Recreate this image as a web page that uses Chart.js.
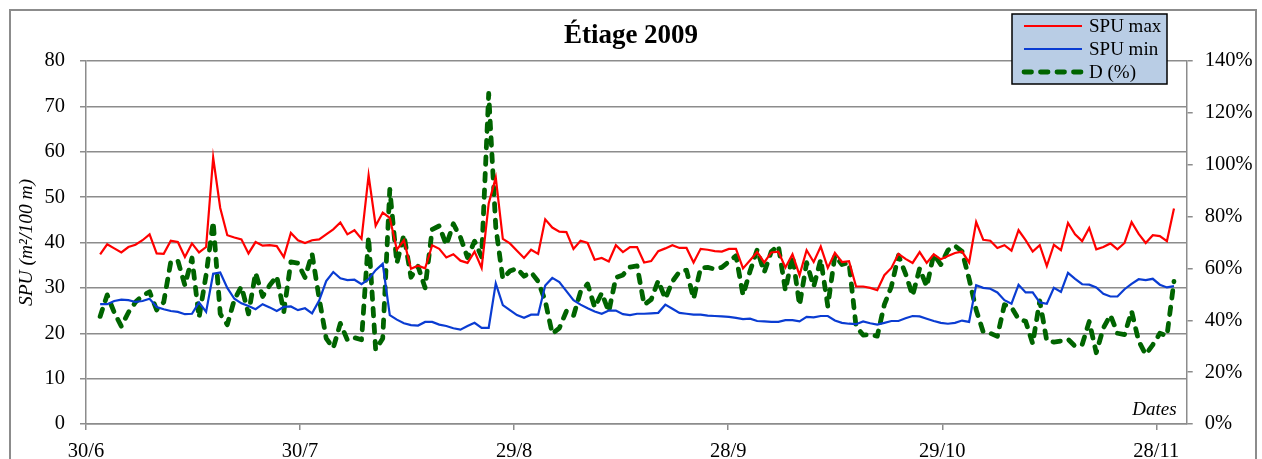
<!DOCTYPE html>
<html>
<head>
<meta charset="utf-8">
<script src="https://cdn.jsdelivr.net/npm/chart.js@4.4.1/dist/chart.umd.min.js"></script>
<style>
  html, body { margin: 0; padding: 0; background: #ffffff; }
  #c { display: block; }
</style>
</head>
<body>
<canvas id="c" width="1262" height="459"></canvas>
<script>
// Daily readings, 2/7/2009 to 1/12/2009 (day 0 = 30/6)
const firstDay = 2;

// SPU max (m²/100 m)
const spuMax = [
  37.4, 39.6, 38.7, 37.8, 39.0, 39.5, 40.5, 41.8, 37.6, 37.5,
  40.4, 40.1, 36.8, 39.8, 37.8, 39.0, 58.7, 47.6, 41.6, 41.1,
  40.7, 37.6, 40.1, 39.3, 39.4, 39.2, 36.8, 42.1, 40.5, 39.9,
  40.5, 40.7, 41.8, 42.9, 44.4, 41.8, 42.7, 40.8, 54.8, 43.7,
  46.6, 45.4, 38.4, 40.5, 34.2, 34.9, 34.3, 39.4, 38.6, 36.7,
  37.4, 36.0, 35.5, 38.0, 34.4, 48.6, 54.3, 40.8, 39.8, 38.2,
  36.6, 38.4, 37.5, 45.1, 43.3, 42.4, 42.3, 38.6, 40.4, 39.9,
  36.2, 36.6, 35.8, 39.4, 37.9, 39.0, 39.0, 35.6, 35.9, 38.1,
  38.7, 39.4, 38.8, 38.8, 35.6, 38.6, 38.4, 38.1, 38.0, 38.6,
  38.6, 34.3, 36.1, 37.9, 35.6, 37.8, 38.0, 34.5, 37.4, 32.8,
  38.3, 35.7, 39.1, 34.4, 37.7, 35.7, 35.9, 30.3, 30.3, 30.0,
  29.5, 32.8, 34.4, 37.5, 36.4, 35.5, 37.9, 35.5, 37.4, 36.3,
  37.0, 37.7, 38.0, 35.6, 44.5, 40.6, 40.4, 38.8, 39.4, 38.2,
  42.7, 40.5, 38.0, 39.4, 34.8, 39.5, 38.3, 44.3, 41.8, 40.3,
  43.2, 38.5, 39.0, 39.8, 38.5, 39.9, 44.5, 41.9, 39.9, 41.6,
  41.4, 40.3, 47.5
];

// SPU min (m²/100 m)
const spuMin = [
  26.4, 26.4, 27.1, 27.4, 27.3, 26.9, 27.1, 27.6, 25.8, 25.3,
  24.9, 24.7, 24.2, 24.3, 26.8, 24.7, 33.1, 33.4, 30.0, 27.6,
  26.6, 26.0, 25.3, 26.4, 25.7, 24.9, 25.8, 25.9, 25.1, 25.5,
  24.4, 27.2, 31.5, 33.5, 32.1, 31.7, 31.8, 30.8, 31.9, 33.9,
  35.3, 24.0, 23.0, 22.2, 21.8, 21.7, 22.5, 22.5, 21.9, 21.6,
  21.1, 20.8, 21.6, 22.3, 21.2, 21.2, 31.0, 26.2, 25.1, 24.0,
  23.4, 24.1, 24.1, 30.5, 32.2, 31.3, 29.3, 27.3, 26.3, 25.5,
  24.8, 24.3, 25.0, 25.0, 24.2, 24.0, 24.3, 24.3, 24.4, 24.5,
  26.3, 25.4, 24.5, 24.3, 24.1, 24.1, 23.9, 23.8, 23.7, 23.6,
  23.4, 23.1, 23.2, 22.7, 22.6, 22.5, 22.5, 22.9, 22.9, 22.6,
  23.6, 23.5, 23.8, 23.8, 22.8, 22.3, 22.1, 22.0, 22.6, 22.2,
  21.9, 22.3, 22.7, 22.7, 23.3, 23.8, 23.7, 23.2, 22.7, 22.3,
  22.1, 22.3, 22.8, 22.5, 30.6, 30.0, 29.8, 29.0, 27.3, 26.5,
  30.7, 29.0, 29.0, 26.8, 26.5, 30.0, 29.1, 33.3, 32.0, 30.8,
  30.7, 30.1, 28.7, 28.1, 28.1, 29.7, 30.9, 31.9, 31.7, 32.0,
  30.7, 30.1, 30.4
];

// D (%)
const dPct = [
  41.5, 49.8, 43.0, 37.7, 43.0, 47.0, 49.5, 51.0, 44.0, 47.0,
  62.5, 63.0, 53.5, 64.0, 41.0, 57.5, 78.0, 42.5, 38.3, 48.0,
  53.0, 42.5, 58.3, 49.2, 53.5, 57.0, 43.3, 62.5, 62.0, 56.5,
  65.6, 48.5, 33.0, 29.3, 38.8, 32.4, 33.3, 32.5, 72.2, 28.6,
  33.0, 90.5, 62.0, 73.0, 56.6, 60.8, 52.5, 75.0, 76.4, 69.0,
  77.2, 72.0, 64.2, 70.5, 64.5, 127.5, 76.0, 56.0, 59.0, 60.0,
  57.0, 58.5, 55.0, 47.5, 34.8, 37.0, 43.5, 41.7, 51.0, 54.0,
  45.0, 50.5, 43.3, 56.5, 57.5, 60.5, 61.0, 46.0, 48.0, 55.3,
  48.3, 55.0, 58.7, 59.3, 48.3, 60.2, 60.4, 59.7, 60.4, 62.6,
  64.9, 49.7, 59.0, 67.2, 58.5, 66.5, 68.8, 51.5, 65.0, 45.8,
  62.2, 53.0, 63.5, 45.5, 65.0, 61.5, 62.3, 37.6, 34.3, 34.5,
  33.9, 46.0, 53.0, 65.0, 58.0, 49.5, 60.0, 53.0, 65.5, 61.5,
  67.0, 68.7, 66.6, 56.0, 44.0, 35.5, 35.0, 33.8, 46.0, 45.0,
  40.5, 39.6, 31.0, 47.5, 32.0, 31.6, 32.0, 32.7, 30.0, 30.6,
  39.5, 27.5, 37.0, 42.0, 35.0, 34.5, 43.5, 32.0, 26.8, 30.5,
  35.0, 34.0, 55.0
];

// Date axis: tick positions (days after 30/6) and their labels
const tickDays = [0, 30.3, 60.6, 90.9, 121.2, 151.5];
const tickLabels = ['30/6', '30/7', '29/8', '28/9', '29/10', '28/11'];

const days = spuMax.map((_, i) => firstDay + i);
const toPoints = arr => arr.map((v, i) => ({ x: days[i], y: v }));

const SERIF = "'Liberation Serif', 'Times New Roman', serif";
const GRID = '#8c8c8c';

// Outer chart frame
const frame = {
  id: 'frame',
  beforeDraw(chart) {
    const c = chart.ctx;
    c.save();
    c.fillStyle = '#ffffff';
    c.fillRect(0, 0, chart.width, chart.height);
    c.strokeStyle = GRID;
    c.lineWidth = 2;
    c.strokeRect(10, 10, 1246, 470);
    c.restore();
  }
};

// "Dates" caption inside the plot, bottom right
const datesCaption = {
  id: 'datesCaption',
  afterDatasetsDraw(chart) {
    const c = chart.ctx, a = chart.chartArea;
    c.save();
    c.font = "italic 19px " + SERIF;
    c.fillStyle = '#000';
    c.textAlign = 'right';
    c.textBaseline = 'alphabetic';
    c.fillText('Dates', a.right - 10, a.bottom - 9);
    c.restore();
  }
};

// Boxed legend with light blue fill, top right
const boxLegend = {
  id: 'boxLegend',
  afterDraw(chart) {
    const c = chart.ctx;
    const x = 1012, y = 14, w = 155, h = 70;
    c.save();
    c.fillStyle = '#b9cde5';
    c.fillRect(x, y, w, h);
    c.strokeStyle = '#000';
    c.lineWidth = 1.5;
    c.strokeRect(x, y, w, h);
    chart.data.datasets.forEach((ds, i) => {
      const ly = 26 + i * 23;
      c.save();
      c.strokeStyle = ds.borderColor;
      c.lineWidth = ds.borderWidth;
      c.lineCap = ds.borderCapStyle || 'butt';
      c.setLineDash(ds.borderDash || []);
      c.beginPath();
      c.moveTo(x + 12, ly);
      c.lineTo(x + 70, ly);
      c.stroke();
      c.restore();
      c.font = "19px " + SERIF;
      c.fillStyle = '#000';
      c.textAlign = 'left';
      c.textBaseline = 'middle';
      c.fillText(ds.label, x + 77, ly + 1);
    });
    c.restore();
  }
};

new Chart(document.getElementById('c'), {
  type: 'line',
  data: {
    datasets: [
      {
        label: 'SPU max', data: toPoints(spuMax), yAxisID: 'y',
        borderColor: '#ff0000', borderWidth: 2.2, pointRadius: 0, tension: 0
      },
      {
        label: 'SPU min', data: toPoints(spuMin), yAxisID: 'y',
        borderColor: '#0a3cd2', borderWidth: 2.2, pointRadius: 0, tension: 0
      },
      {
        label: 'D (%)', data: toPoints(dPct), yAxisID: 'y1',
        borderColor: '#006400', borderWidth: 4.8, borderDash: [7.5, 9],
        borderCapStyle: 'round', borderJoinStyle: 'round', pointRadius: 0, tension: 0
      }
    ]
  },
  options: {
    responsive: false,
    animation: false,
    events: [],
    layout: { padding: 0 },
    plugins: {
      legend: { display: false },
      tooltip: { enabled: false },
      title: {
        display: true,
        text: 'Étiage 2009',
        color: '#000',
        font: { family: SERIF, size: 27, weight: 'bold', lineHeight: 1.2 },
        padding: { top: 20, bottom: 8.6 }
      }
    },
    scales: {
      x: {
        type: 'linear',
        min: 0,
        max: 155.8,
        afterBuildTicks: s => { s.ticks = tickDays.map(v => ({ value: v })); },
        afterFit: s => { s.height = 35; },
        ticks: {
          callback: (v, i) => tickLabels[i],
          color: '#000',
          font: { family: SERIF, size: 20.5 },
          maxRotation: 0,
          autoSkip: false,
          padding: 9
        },
        grid: { drawOnChartArea: false, drawTicks: true, tickLength: 6, color: GRID, lineWidth: 1.5 },
        border: { color: GRID, width: 1.5 }
      },
      y: {
        position: 'left',
        min: 0,
        max: 80,
        afterFit: s => { s.width = 86; },
        ticks: { stepSize: 10, color: '#000', font: { family: SERIF, size: 20.5 }, padding: 15 },
        grid: { color: GRID, lineWidth: 1.5, tickLength: 6 },
        border: { color: GRID, width: 1.5 },
        title: {
          display: true,
          text: 'SPU (m²/100 m)',
          color: '#000',
          font: { family: SERIF, size: 19.5, style: 'italic' },
          padding: { top: 15, bottom: 0 }
        }
      },
      y1: {
        position: 'right',
        min: 0,
        max: 140,
        afterFit: s => { s.width = 75.3; },
        ticks: {
          stepSize: 20,
          callback: v => v + '%',
          color: '#000',
          font: { family: SERIF, size: 20.5 },
          padding: 12
        },
        grid: { drawOnChartArea: false, tickLength: 6, color: GRID, lineWidth: 1.5 },
        border: { color: GRID, width: 1.5 }
      }
    }
  },
  plugins: [frame, datesCaption, boxLegend]
});
</script>
</body>
</html>
